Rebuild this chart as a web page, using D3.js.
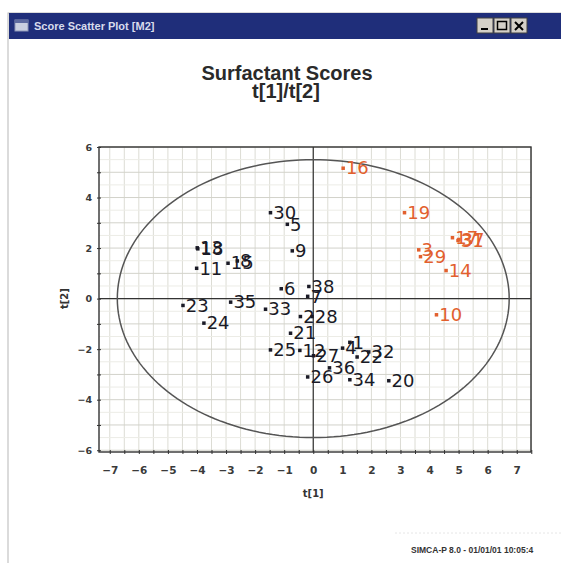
<!DOCTYPE html>
<html>
<head>
<meta charset="utf-8">
<script src="https://cdn.jsdelivr.net/npm/d3@7"></script>
<style>
  html, body { margin: 0; padding: 0; background: #fff; }
  svg { display: block; }
</style>
</head>
<body>
<svg id="chart" width="561" height="563"></svg>
<script>
// Observation numbers, score values t[1] / t[2] and class of each sample
const obsIds = [1, 2, 3, 4, 5, 6, 7, 8, 9, 10,
  11, 12, 13, 14, 15, 16, 17, 18, 19, 20,
  21, 22, 23, 24, 25, 26, 27, 28, 29, 30,
  31, 32, 33, 34, 35, 36, 37, 38];
const t1Scores = [1.25, -0.45, 3.62, 1.0, -0.9, -1.11, -0.2, -2.62, -0.73, 4.23,
  -4.02, -0.47, -4.0, 4.56, -2.94, 1.02, 4.78, -3.98, 3.13, 2.59,
  -0.79, 1.5, -4.49, -3.77, -1.48, -0.2, 0.0, -0.05, 3.68, -1.48,
  4.97, 1.9, -1.65, 1.25, -2.85, 0.55, 5.0, -0.16];
const t2Scores = [-1.72, -0.7, 1.94, -1.95, 2.95, 0.4, 0.1, 1.5, 1.9, -0.63,
  1.21, -2.04, 2.02, 1.12, 1.41, 5.17, 2.42, 1.98, 3.41, -3.24,
  -1.36, -2.3, -0.26, -0.96, -2.02, -3.09, -2.25, -0.7, 1.67, 3.41,
  2.31, -2.1, -0.41, -3.2, -0.13, -2.73, 2.35, 0.49];
const obsClass = [1, 1, 2, 1, 1, 1, 1, 1, 1, 2,
  1, 1, 1, 2, 1, 2, 2, 1, 2, 1,
  1, 1, 1, 1, 1, 1, 1, 1, 2, 1,
  2, 1, 1, 1, 1, 1, 2, 1];

// Axis ticks and labels
const xTickValues = [-7, -6, -5, -4, -3, -2, -1, 0, 1, 2, 3, 4, 5, 6, 7];
const yTickValues = [-6, -4, -2, 0, 2, 4, 6];

// Hotelling T2 ellipse semi-axes (t[1], t[2])
const ellipseAxes = [6.74, 5.5];

const svg = d3.select("#chart");

// ---- window chrome ----
svg.append("rect").attr("x", 8).attr("y", 13).attr("width", 560).attr("height", 560)
  .attr("fill", "#fff").attr("stroke", "#b8b8b8");
svg.append("rect").attr("x", 9).attr("y", 13).attr("width", 560).attr("height", 26)
  .attr("fill", "#1f2e7a");
svg.append("rect").attr("x", 15).attr("y", 20).attr("width", 13).attr("height", 11)
  .attr("fill", "#c9cfe0").attr("stroke", "#8d96b8");
svg.append("rect").attr("x", 15).attr("y", 20).attr("width", 13).attr("height", 3)
  .attr("fill", "#5d6aa0");
svg.append("text").attr("x", 34).attr("y", 30)
  .attr("font-family", "Liberation Sans, Arial, sans-serif").attr("font-size", 11)
  .attr("font-weight", "bold").attr("fill", "#d8dcec")
  .text("Score Scatter Plot [M2]");
const btns = [[477, "min"], [494, "max"], [511, "close"]];
btns.forEach(([bx, kind]) => {
  svg.append("rect").attr("x", bx).attr("y", 18).attr("width", 16).attr("height", 15)
    .attr("fill", "#d4d0c8").attr("stroke", "#404040");
  if (kind === "min") {
    svg.append("rect").attr("x", bx + 4).attr("y", 28).attr("width", 7).attr("height", 2).attr("fill", "#000");
  } else if (kind === "max") {
    svg.append("rect").attr("x", bx + 3.5).attr("y", 21.5).attr("width", 9).attr("height", 8)
      .attr("fill", "none").attr("stroke", "#000").attr("stroke-width", 1.5);
  } else {
    svg.append("path").attr("d", `M${bx + 4},22 L${bx + 12},30 M${bx + 12},22 L${bx + 4},30`)
      .attr("stroke", "#000").attr("stroke-width", 2);
  }
});

// ---- title ----
svg.append("text").attr("x", 287).attr("y", 80).attr("text-anchor", "middle")
  .attr("font-family", "Liberation Sans, Arial, sans-serif").attr("font-size", 20)
  .attr("font-weight", "bold").attr("fill", "#2a2a2a")
  .text("Surfactant Scores");
svg.append("text").attr("x", 286).attr("y", 98).attr("text-anchor", "middle")
  .attr("font-family", "Liberation Sans, Arial, sans-serif").attr("font-size", 20)
  .attr("font-weight", "bold").attr("fill", "#2a2a2a")
  .text("t[1]/t[2]");

// ---- plot area ----
const plotL = 99, plotR = 531, plotT = 147, plotB = 452;
const x = d3.scaleLinear().domain([-7.37, 7.49]).range([plotL, plotR]);
const y = d3.scaleLinear().domain([-6.07, 6.0]).range([plotB, plotT]);

const gridG = svg.append("g");
// vertical grid every 0.5 on t[1]
d3.range(-7, 7.51, 0.5).forEach(v => {
  gridG.append("line").attr("x1", x(v)).attr("x2", x(v)).attr("y1", plotT).attr("y2", plotB)
    .attr("stroke", "#dcdcd4").attr("stroke-width", 1);
});
// horizontal grid every 0.5 on t[2], stronger on whole units
d3.range(-6, 6.01, 0.5).forEach(v => {
  gridG.append("line").attr("x1", plotL).attr("x2", plotR).attr("y1", y(v)).attr("y2", y(v))
    .attr("stroke", Number.isInteger(v) ? "#d2d2ca" : "#ececE6").attr("stroke-width", 1);
});

// zero lines
svg.append("line").attr("x1", x(0)).attr("x2", x(0)).attr("y1", plotT).attr("y2", plotB)
  .attr("stroke", "#333").attr("stroke-width", 1.2);
svg.append("line").attr("x1", plotL).attr("x2", plotR).attr("y1", y(0)).attr("y2", y(0))
  .attr("stroke", "#333").attr("stroke-width", 1.2);

// frame
svg.append("rect").attr("x", plotL).attr("y", plotT).attr("width", plotR - plotL).attr("height", plotB - plotT)
  .attr("fill", "none").attr("stroke", "#333").attr("stroke-width", 1.4);

// ---- axes ----
const tickFont = "DejaVu Sans, Verdana, sans-serif";
const xAxis = d3.axisBottom(x).tickValues(d3.range(-7, 7.51, 0.5)).tickSize(4).tickSizeOuter(0)
  .tickFormat(() => "");
const xAx = svg.append("g").attr("transform", `translate(0,${plotB})`).call(xAxis);
xAx.select(".domain").remove();
xAx.selectAll(".tick line").attr("stroke", "#333").attr("transform", "translate(0,-2)");

const xLab = d3.axisBottom(x).tickValues(xTickValues).tickSize(0).tickFormat(d3.format("d"));
const xl = svg.append("g").attr("transform", `translate(0,${plotB + 12})`).call(xLab);
xl.select(".domain").remove();
xl.selectAll("text").attr("font-family", tickFont).attr("font-size", 10.5)
  .attr("font-weight", "bold").attr("fill", "#3a3a3a");

const yAxis = d3.axisLeft(y).tickValues(d3.range(-6, 6.01, 1)).tickSize(4).tickSizeOuter(0)
  .tickFormat(() => "");
const yAx = svg.append("g").attr("transform", `translate(${plotL},0)`).call(yAxis);
yAx.select(".domain").remove();
yAx.selectAll(".tick line").attr("stroke", "#333").attr("transform", "translate(2,0)");

const yLab = d3.axisLeft(y).tickValues(yTickValues).tickSize(0).tickFormat(d3.format("d"));
const yl = svg.append("g").attr("transform", `translate(${plotL - 4},0)`).call(yLab);
yl.select(".domain").remove();
yl.selectAll("text").attr("font-family", tickFont).attr("font-size", 9.5)
  .attr("font-weight", "bold").attr("fill", "#3a3a3a");

// axis titles
svg.append("text").attr("x", x(0)).attr("y", 497).attr("text-anchor", "middle")
  .attr("font-family", tickFont).attr("font-size", 10).attr("font-weight", "bold").attr("fill", "#333")
  .text("t[1]");
svg.append("text").attr("transform", `translate(68,${y(0)}) rotate(-90)`).attr("text-anchor", "middle")
  .attr("font-family", tickFont).attr("font-size", 10).attr("font-weight", "bold").attr("fill", "#333")
  .text("t[2]");

// ---- Hotelling ellipse ----
const ellipsePts = d3.range(0, 361, 2).map(a => {
  const r = a * Math.PI / 180;
  return [ellipseAxes[0] * Math.cos(r), ellipseAxes[1] * Math.sin(r)];
});
svg.append("path").datum(ellipsePts)
  .attr("d", d3.line().x(d => x(d[0])).y(d => y(d[1])))
  .attr("fill", "none").attr("stroke", "#555").attr("stroke-width", 1.5);

// ---- score points ----
const data = obsIds.map((id, i) => ({ id, t1: t1Scores[i], t2: t2Scores[i], cls: obsClass[i] }));
const colour = d3.scaleOrdinal().domain([1, 2]).range(["#1a1a26", "#e2602e"]);

const pts = svg.append("g").selectAll("g").data(data).join("g")
  .attr("transform", d => `translate(${x(d.t1)},${y(d.t2)})`);
pts.append("rect").attr("x", -1.5).attr("y", -1.5).attr("width", 3.5).attr("height", 3.5)
  .attr("fill", d => colour(d.cls));
pts.append("text").attr("x", 3).attr("y", 6.5)
  .attr("font-family", "DejaVu Sans, Verdana, sans-serif").attr("font-size", 18)
  .attr("fill", d => colour(d.cls))
  .text(d => d.id);

// ---- status footer ----
svg.append("line").attr("x1", 395).attr("x2", 561).attr("y1", 533).attr("y2", 533)
  .attr("stroke", "#e6e6e6").attr("stroke-dasharray", "2,2");
svg.append("text").attr("x", 411).attr("y", 553)
  .attr("font-family", "Liberation Sans, Arial, sans-serif").attr("font-size", 8.5)
  .attr("font-weight", "bold").attr("fill", "#333")
  .text("SIMCA-P 8.0 - 01/01/01 10:05:4");
</script>
</body>
</html>
